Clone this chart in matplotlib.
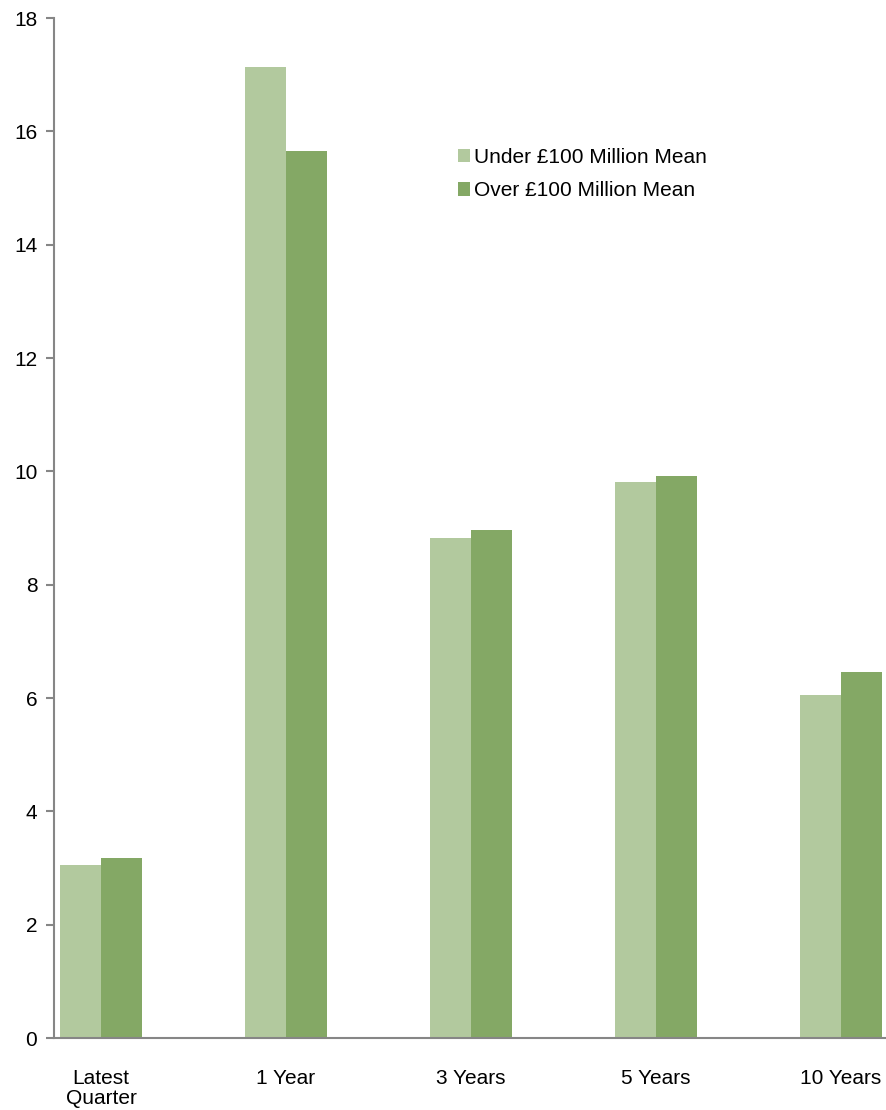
import matplotlib.pyplot as plt
import numpy as np

plt.rcParams['font.family'] = ['Liberation Sans', 'DejaVu Sans']

categories = ["Latest\nQuarter", "1 Year", "3 Years", "5 Years", "10 Years"]
under_100m = [3.05, 17.14, 8.82, 9.81, 6.05]
over_100m = [3.18, 15.65, 8.96, 9.92, 6.46]

light_green = "#B2C99E"
dark_green = "#84A865"
axis_grey = "#868686"

fig = plt.figure(figsize=(8.87, 11.1), dpi=100)
ax = fig.add_axes([54 / 887, 72 / 1110, 1 - 54 / 887, 1020 / 1110])

x = np.arange(len(categories))
w = 0.222
ax.bar(x - w / 2, under_100m, w, color=light_green, label="Under £100 Million Mean")
ax.bar(x + w / 2, over_100m, w, color=dark_green, label="Over £100 Million Mean")

ax.set_ylim(0, 18)
ax.set_yticks(range(0, 19, 2))
ax.set_xlim(-0.254, 4.25)
ax.set_xticks(x)
ax.set_xticklabels(categories, fontsize=15, linespacing=1.1)

for s in ["top", "right"]:
    ax.spines[s].set_visible(False)
ax.spines["left"].set_color(axis_grey)
ax.spines["bottom"].set_color(axis_grey)
ax.spines["left"].set_linewidth(1.5)
ax.spines["bottom"].set_linewidth(1.5)

ax.tick_params(axis="y", colors=axis_grey, labelcolor="black", labelsize=15,
               length=6, width=1.5, pad=6)
ax.tick_params(axis="x", length=0, pad=22)

ax.legend(loc="upper left", bbox_to_anchor=(439 / 887, 1 - 129 / 1110),
          bbox_transform=fig.transFigure, frameon=False, fontsize=15,
          handlelength=0.6, handleheight=0.6, handletextpad=0.2,
          labelspacing=0.7)

plt.savefig("out.png", dpi=100)
